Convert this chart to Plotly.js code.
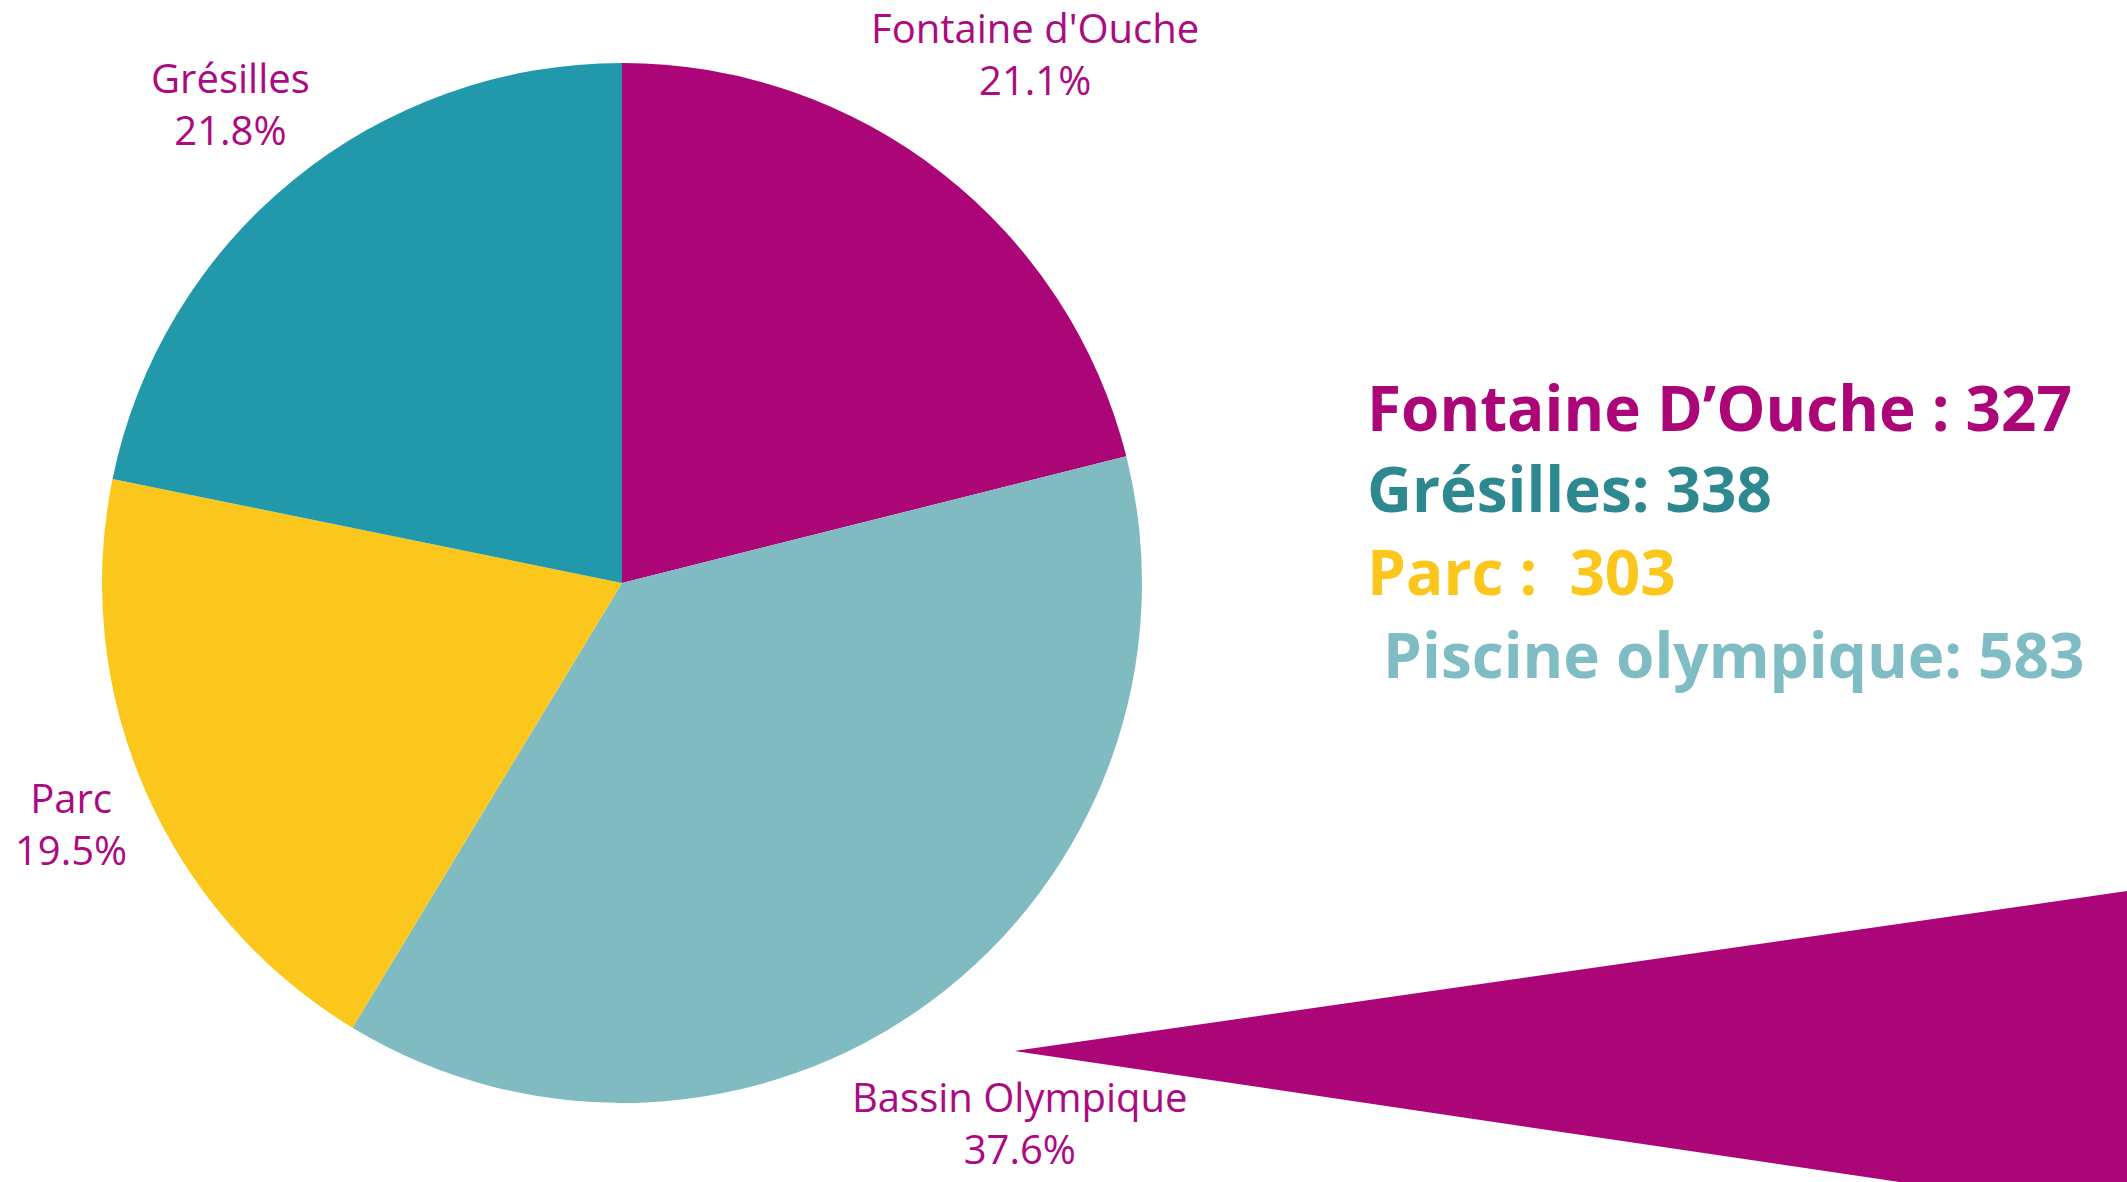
<!DOCTYPE html>
<html>
<head>
<meta charset="utf-8">
<script src="https://cdn.plot.ly/plotly-3.0.1.min.js"></script>
<style>
  html, body { margin: 0; padding: 0; background: #ffffff; }
  #chart { width: 2127px; height: 1182px; }
</style>
</head>
<body>
<div id="chart"></div>
<script>
// ---- data ----
const sites = ["Fontaine d'Ouche", "Bassin Olympique", "Parc", "Grésilles"];
const entries = [327, 583, 303, 338];
const sliceColors = ["#AB0577", "#80BBC2", "#FCC71C", "#2199AB"];

const legendNames = ["Fontaine D’Ouche : ", "Grésilles: ", "Parc :  ", " Piscine olympique: "];
const legendValues = [327, 338, 303, 583];
const legendColors = ["#AB0577", "#2E8890", "#FCC71C", "#80BCC3"];

// ---- layout constants ----
const W = 2127, H = 1182;
const pieBox = { left: 102, right: 1142, top: 63, bottom: 1103 }; // pixels
const labelFontSize = 40;
const labelFamily = 'Open Sans';
const labelColor = '#AB0A80';
const labelGap = 9;

const cx = (pieBox.left + pieBox.right) / 2;
const cy = (pieBox.top + pieBox.bottom) / 2;
const R = Math.min(pieBox.right - pieBox.left, pieBox.bottom - pieBox.top) / 2;

const trace = {
  type: 'pie',
  labels: sites,
  values: entries,
  sort: false,
  direction: 'clockwise',
  rotation: 0,
  marker: { colors: sliceColors, line: { width: 0 } },
  textinfo: 'none',
  hoverinfo: 'label+value+percent',
  showlegend: false,
  domain: { x: [pieBox.left / W, pieBox.right / W], y: [(H - pieBox.bottom) / H, (H - pieBox.top) / H] }
};

// outside labels placed radially beyond each slice's mid angle
const ctx = document.createElement('canvas').getContext('2d');
ctx.font = labelFontSize + 'px "' + labelFamily + '"';
const total = entries.reduce((a, b) => a + b, 0);
let cum = 0;
const labelAnns = sites.map((s, i) => {
  const pct = (entries[i] / total * 100).toFixed(1) + '%';
  const mid = (cum + entries[i] / 2) / total * 2 * Math.PI;
  cum += entries[i];
  const w = Math.max(ctx.measureText(s).width, ctx.measureText(pct).width);
  const h = 2 * labelFontSize * 1.3;
  const d = R + labelGap + (w / 2) * Math.abs(Math.sin(mid)) + (h / 2) * Math.abs(Math.cos(mid));
  const px = cx + d * Math.sin(mid);
  const py = cy - d * Math.cos(mid);
  return {
    xref: 'paper', yref: 'paper', x: px / W, y: (H - py) / H,
    xanchor: 'center', yanchor: 'middle', align: 'center',
    text: s + '<br>' + pct, showarrow: false,
    font: { family: labelFamily + ', sans-serif', size: labelFontSize, color: labelColor }
  };
});

const legendY = [407, 488, 571, 654];
const legendAnns = legendNames.map((n, i) => ({
  xref: 'paper', yref: 'paper',
  x: 1365 / W, y: (H - legendY[i]) / H,
  xanchor: 'left', yanchor: 'middle',
  text: '<b>' + n + legendValues[i] + '</b>',
  showarrow: false,
  font: { family: 'Open Sans, sans-serif', size: 62, color: legendColors[i], weight: 800 }
}));

const layout = {
  width: W, height: H,
  margin: { l: 0, r: 0, t: 0, b: 0 },
  paper_bgcolor: '#ffffff',
  showlegend: false,
  annotations: labelAnns.concat(legendAnns),
  shapes: [{
    type: 'path', xref: 'paper', yref: 'paper',
    path: 'M ' + (1015 / W) + ' ' + ((H - 1051) / H) + ' L 1.02 ' + ((H - 885) / H) + ' L 1.02 ' + ((H - 1222) / H) + ' Z',
    fillcolor: '#AB0577', line: { width: 0 }, layer: 'below'
  }]
};

Plotly.newPlot('chart', [trace], layout, { displayModeBar: false, staticPlot: true });
</script>
</body>
</html>
